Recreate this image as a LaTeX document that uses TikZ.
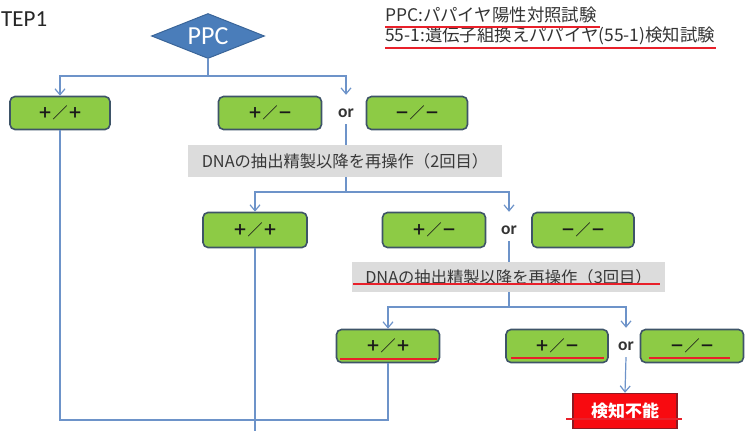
\documentclass[tikz,border=0pt]{standalone}
\usepackage{fontspec}
\setmainfont{Carlito}
\newfontfamily\jp{Noto Sans CJK JP}
\usetikzlibrary{arrows.meta,shapes.geometric}
\definecolor{boxgreen}{HTML}{8DCB45}
\definecolor{boxborder}{HTML}{3E5468}
\definecolor{linkblue}{HTML}{6D93C9}
\definecolor{ppcblue}{HTML}{4A7DBA}
\definecolor{ppcborder}{HTML}{3A6599}
\definecolor{grayfill}{HTML}{DCDCDC}
\definecolor{uline}{HTML}{E8202A}
\definecolor{alarmred}{HTML}{F80A10}
\definecolor{alarmborder}{HTML}{8C1A22}
\tikzset{
  resbox/.style={draw=boxborder, fill=boxgreen, line width=1.6pt, rounded corners=5pt,
    minimum height=33pt, inner sep=0pt, text=black!90,
    font=\jp\bfseries\fontsize{15}{18}\selectfont},
  graybox/.style={fill=grayfill, inner sep=0pt, text=black!78,
    font=\jp\fontsize{16.3}{19}\selectfont},
  orlabel/.style={inner sep=0pt, minimum height=22pt, text=black!80,
    font=\bfseries\fontsize{17.5}{20}\selectfont},
  legend/.style={anchor=west, inner sep=0pt, text=black!80,
    font=\jp\fontsize{17.4}{20}\selectfont},
  conn/.style={draw=linkblue, line width=1.2pt},
  arr/.style={conn, -{Straight Barb[length=6pt,width=10pt]}},
  redline/.style={draw=uline, line width=2.2pt},
}
\begin{document}
\begin{tikzpicture}[x=1pt,y=-1pt]
\useasboundingbox (0,0) rectangle (747,431);

% title
\node[anchor=base west, inner sep=0pt, text=black!85, font=\fontsize{23}{26}\selectfont] (title) at (1,27) {TEP1};

% legend
\node[legend] (leg1) at (385,15) {PPC:パパイヤ陽性対照試験};
\node[legend] (leg2) at (385,36) {55-1:遺伝子組換えパパイヤ(55-1)検知試験};
\coordinate (l1a) at (385,27); \coordinate (l1b) at (600,27);
\coordinate (l2a) at (385,48); \coordinate (l2b) at (716,48);
\draw[redline] (l1a) -- (l1b);
\draw[redline] (l2a) -- (l2b);

% PPC diamond
\node[diamond, aspect=2.5, draw=ppcborder, fill=ppcblue, line width=1pt, inner sep=0pt,
  minimum width=113pt, minimum height=45pt, text=white,
  font=\fontsize{26}{28}\selectfont] (ppc) at (208,36) {PPC};

% row 1
\node[resbox, minimum width=100pt] (b1) at (60,113) {＋／＋};
\node[resbox, minimum width=103pt] (b2) at (270,113) {＋／－};
\node[orlabel] (or1) at (346,113) {or};
\node[resbox, minimum width=101pt] (b3) at (417,113) {－／－};

\node[graybox, minimum width=314pt, minimum height=32pt] (g2) at (345,161) {DNAの抽出精製以降を再操作（2回目）};

% row 2
\node[resbox, minimum width=104pt, minimum height=35pt] (b4) at (255,230) {＋／＋};
\node[resbox, minimum width=103pt, minimum height=35pt] (b5) at (434,230) {＋／－};
\node[orlabel] (or2) at (509,230) {or};
\node[resbox, minimum width=102pt, minimum height=35pt] (b6) at (583,230) {－／－};

\node[graybox, minimum width=313pt, minimum height=30pt] (g3) at (508.5,277) {DNAの抽出精製以降を再操作（3回目）};

% row 3
\node[resbox, minimum width=103pt] (b7) at (388,346) {＋／＋};
\node[resbox, minimum width=102pt] (b8) at (557,346) {＋／－};
\node[orlabel] (or3) at (626,346) {or};
\node[resbox, minimum width=103pt] (b9) at (692,346) {－／－};

\node[draw=alarmborder, fill=alarmred, line width=1.4pt, minimum width=104pt, minimum height=35pt,
  inner sep=0pt, text=white, font=\jp\bfseries\fontsize{17}{20}\selectfont] (ng) at (625,411) {検知不能};

% junctions
\coordinate (j1) at (208,76);
\coordinate (j2) at (346,192);
\coordinate (j3) at (509,307);
\coordinate (j4) at (388,420);
\coordinate (bottom) at (255,431);

% connectors
\draw[conn] (ppc.south) -- (j1);
\draw[arr] (j1) -| (b1.north);
\draw[arr, shorten >=7pt] (j1) -| (or1.north);
\draw[conn] (or1.south) -- (g2.north -| or1.south);
\draw[conn] (g2.south -| j2) -- (j2);
\draw[arr] (j2) -| (b4.north);
\draw[arr, shorten >=7pt] (j2) -| (or2.north);
\draw[conn] (or2.south) -- (g3.north -| or2.south);
\draw[conn] (g3.south -| j3) -- (j3);
\draw[arr] (j3) -| (b7.north);
\draw[arr, shorten >=7pt] (j3) -| (or3.north);
\draw[arr] (or3.south) -- (ng.north);
\draw[conn] (b1.south) |- (j4) -- (b7.south);
\draw[conn] (b4.south) -- (bottom);

% red underlines
\draw[redline] ([xshift=4pt,yshift=4pt]b7.south west) -- ([xshift=-3pt,yshift=4pt]b7.south east);
\draw[redline] ([xshift=6pt,yshift=5pt]b8.south west) -- ([xshift=-5pt,yshift=5pt]b8.south east);
\draw[redline] ([xshift=9pt,yshift=5pt]b9.south west) -- ([xshift=-14pt,yshift=5pt]b9.south east);
\coordinate (g3a) at (353,284); \coordinate (g3b) at (660,284);
\draw[redline] (g3a) -- (g3b);
\coordinate (nga) at (566,419); \coordinate (ngb) at (682,419);
\draw[redline] (nga) -- (ngb);
\end{tikzpicture}
\end{document}
